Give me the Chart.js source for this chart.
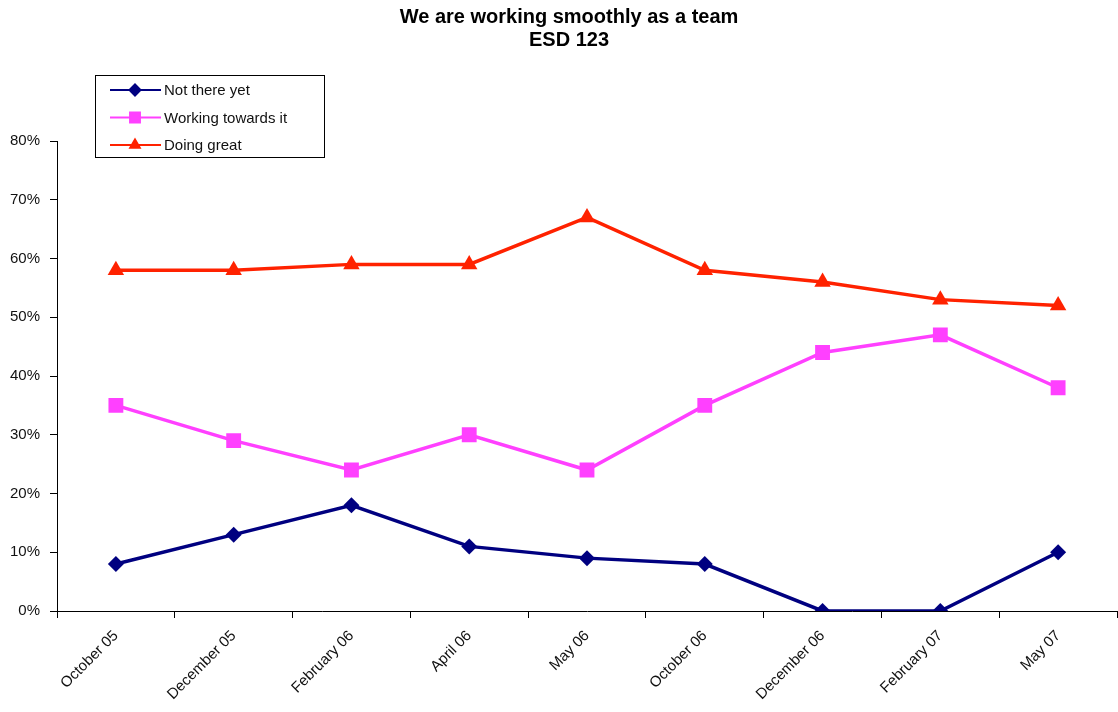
<!DOCTYPE html>
<html lang="en">
<head>
    <meta charset="UTF-8">
    <script src="https://cdn.jsdelivr.net/npm/chart.js"></script>
    <title>We are working smoothly as a team</title>
    <style>
        html, body { margin: 0; padding: 0; background: #fff; }
        .chart-container { position: relative; width: 1118px; height: 712px; }
    </style>
</head>
<body>
<div class="chart-container">
    <canvas id="myChart"></canvas>
</div>

<script>
    const months = ['October 05', 'December 05', 'February 06', 'April 06', 'May 06',
                    'October 06', 'December 06', 'February 07', 'May 07'];
    const notThereYet = [8, 13, 18, 11, 9, 8, 0, 0, 10];
    const workingTowards = [35, 29, 24, 30, 24, 35, 44, 47, 38];
    const doingGreat = [58, 58, 59, 59, 67, 58, 56, 53, 52];
    const titleLines = ['We are working smoothly as a team', 'ESD 123'];

    const FONT = "'Liberation Sans', Arial, sans-serif";

    // title and boxed legend drawn by hand, excel style
    const excelBits = {
        id: 'excelBits',
        afterDraw(chart) {
            const c = chart.ctx;
            c.save();
            c.fillStyle = '#000';
            c.font = 'bold 20px ' + FONT;
            c.textAlign = 'center';
            c.textBaseline = 'middle';
            c.fillText(titleLines[0], 569, 17);
            c.fillText(titleLines[1], 569, 40);

            // legend box
            c.fillStyle = '#fff';
            c.fillRect(95, 75, 229, 82);
            c.strokeStyle = '#000';
            c.lineWidth = 1;
            c.strokeRect(95.5, 75.5, 229, 82);

            c.font = '15px ' + FONT;
            c.textAlign = 'left';
            chart.data.datasets.forEach((ds, i) => {
                const y = 90 + i * 27.5;
                c.strokeStyle = ds.borderColor;
                c.lineWidth = 2;
                c.beginPath();
                c.moveTo(110, y);
                c.lineTo(161, y);
                c.stroke();
                Chart.helpers.drawPoint(c, {
                    pointStyle: ds.pointStyle,
                    radius: ds.pointStyle === 'rect' ? 7 : 5.5,
                    rotation: 0,
                    borderWidth: 1
                }, 135, y);
                c.fillStyle = ds.borderColor;
                c.fill();
                c.fillStyle = '#111';
                c.fillText(ds.label, 164, y + 1);
            });
            c.restore();
        }
    };

    const ctx = document.getElementById('myChart').getContext('2d');
    const chart = new Chart(ctx, {
        type: 'line',
        data: {
            labels: months,
            datasets: [
                {
                    label: 'Not there yet',
                    data: notThereYet,
                    borderColor: '#000080',
                    backgroundColor: '#000080',
                    borderWidth: 3.5,
                    pointStyle: 'rectRot',
                    pointRadius: 8,
                    pointBorderWidth: 0
                },
                {
                    label: 'Working towards it',
                    data: workingTowards,
                    borderColor: '#FF40FF',
                    backgroundColor: '#FF40FF',
                    borderWidth: 3.5,
                    pointStyle: 'rect',
                    pointRadius: 10.5,
                    pointBorderWidth: 0
                },
                {
                    label: 'Doing great',
                    data: doingGreat,
                    borderColor: '#FF2200',
                    backgroundColor: '#FF2200',
                    borderWidth: 3.5,
                    pointStyle: 'triangle',
                    pointRadius: 9.5,
                    pointBorderWidth: 0
                }
            ]
        },
        options: {
            responsive: true,
            maintainAspectRatio: false,
            animation: false,
            layout: {
                autoPadding: false,
                padding: { top: 141, right: 1, left: 0, bottom: 0 }
            },
            plugins: {
                legend: { display: false },
                title: { display: false },
                tooltip: { enabled: false }
            },
            scales: {
                x: {
                    offset: true,
                    grid: {
                        offset: true,
                        drawOnChartArea: false,
                        drawTicks: true,
                        tickLength: 7,
                        color: '#000'
                    },
                    border: { color: '#000', width: 1 },
                    ticks: {
                        minRotation: 45,
                        maxRotation: 45,
                        color: '#111',
                        font: { family: FONT, size: 15 },
                        padding: 9
                    },
                    afterFit(scale) {
                        scale.height = 101;
                        scale.paddingRight = 0;
                        scale.paddingLeft = 0;
                    }
                },
                y: {
                    min: 0,
                    max: 80,
                    grid: {
                        drawOnChartArea: false,
                        drawTicks: true,
                        tickLength: 7,
                        color: '#000'
                    },
                    border: { color: '#000', width: 1 },
                    ticks: {
                        stepSize: 10,
                        color: '#111',
                        font: { family: FONT, size: 15 },
                        padding: 10,
                        callback: v => v + '%'
                    },
                    afterFit(scale) { scale.width = 57; }
                }
            }
        },
        plugins: [excelBits]
    });
</script>
</body>
</html>
